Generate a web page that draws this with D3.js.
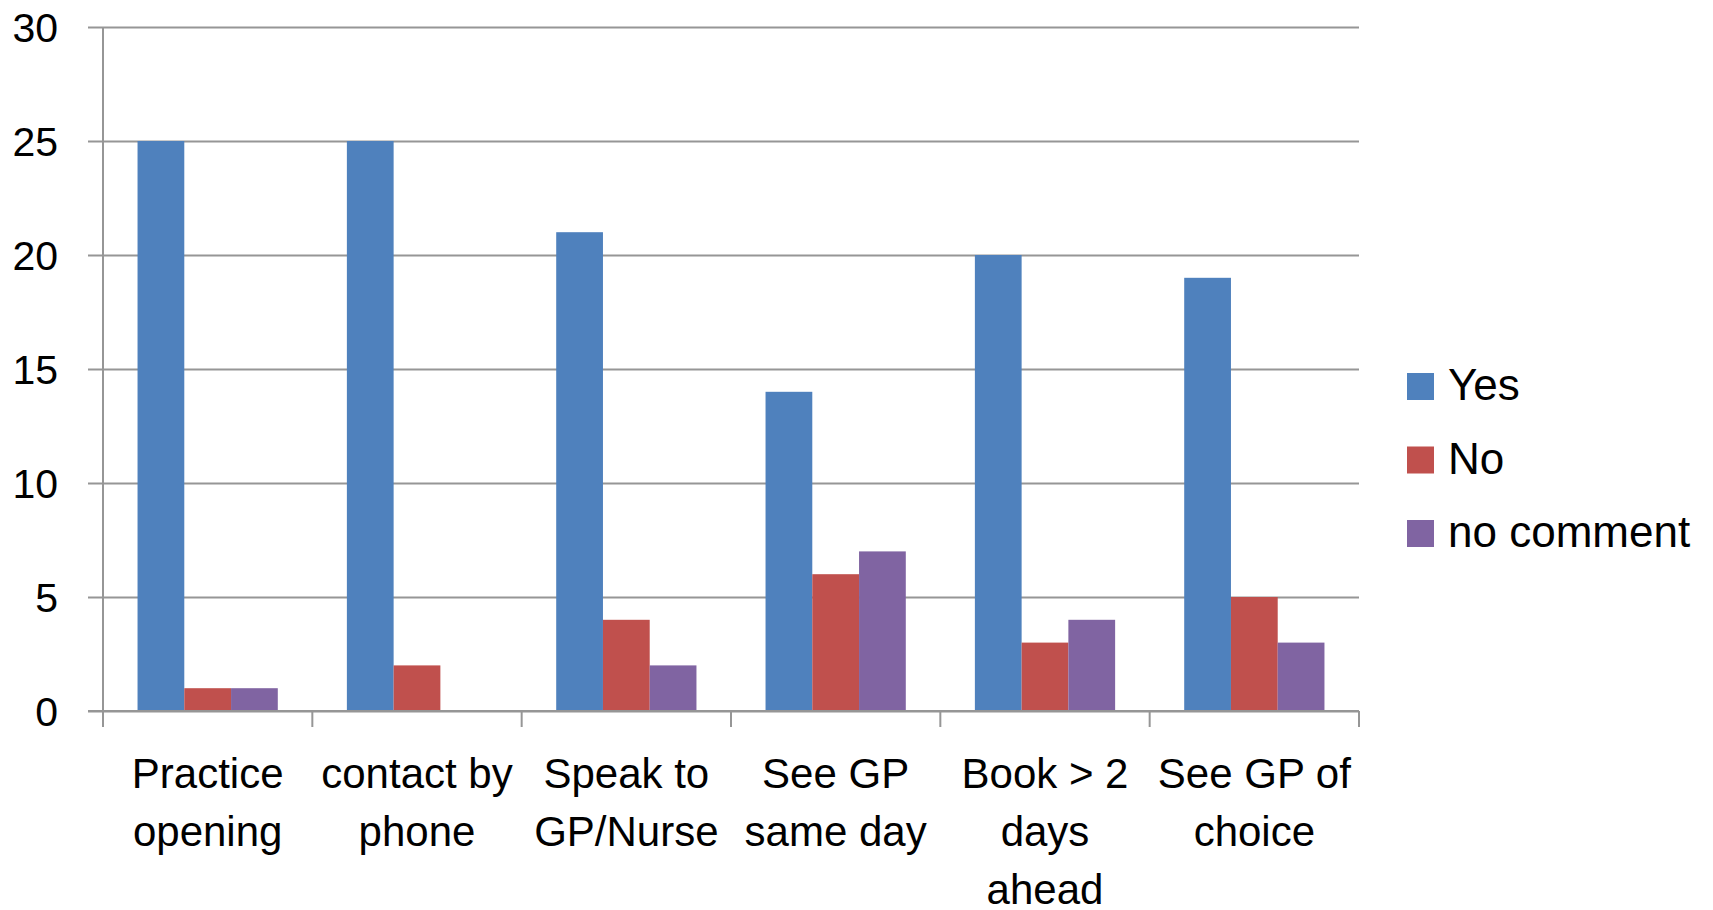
<!DOCTYPE html>
<html>
<head>
<meta charset="utf-8">
<script src="https://cdn.jsdelivr.net/npm/d3@7"></script>
<style>
  html, body { margin: 0; padding: 0; background: #fff; }
  svg text { font-family: "Liberation Sans", Arial, sans-serif; fill: #000; }
</style>
</head>
<body>
<div id="chart"></div>
<script>
const categories = ["Practice\nopening", "contact by\nphone", "Speak to\nGP/Nurse", "See GP\nsame day", "Book > 2\ndays\nahead", "See GP of\nchoice"]
const seriesNames = ["Yes", "No", "no comment"]
const yes = [25, 25, 21, 14, 20, 19]
const no = [1, 2, 4, 6, 3, 5]
const noComment = [1, 0, 2, 7, 4, 3]
const yTicks = [0, 5, 10, 15, 20, 25, 30]
const colors = ["#4F81BD", "#C0504D", "#8064A2"]

const width = 1713
const height = 910
const margin = { top: 27, right: 354, bottom: 199, left: 103 }

const svg = d3.select("#chart")
  .append("svg")
  .attr("width", width)
  .attr("height", height)

const values = [yes, no, noComment]
const rows = categories.map((c, i) => ({ cat: c, vals: seriesNames.map((s, j) => ({ key: s, value: values[j][i] })) }))

const x0 = d3.scaleBand()
  .domain(categories)
  .range([margin.left, width - margin.right])
  .paddingInner(0.33)
  .paddingOuter(0.165)

const x1 = d3.scaleBand()
  .domain(seriesNames)
  .range([0, x0.bandwidth()])

const y = d3.scaleLinear()
  .domain([0, 30])
  .range([height - margin.bottom, margin.top])

const color = d3.scaleOrdinal().domain(seriesNames).range(colors)

// Gridlines with small left ticks
svg.append("g")
  .attr("transform", `translate(${margin.left},0)`)
  .call(d3.axisLeft(y).tickValues(yTicks).tickSize(-(width - margin.right - margin.left)).tickFormat(""))
  .call(g => g.select(".domain").remove())
  .call(g => g.selectAll("line").attr("stroke", "#969696").attr("stroke-width", 2).attr("x1", -15))

// Bars
svg.append("g")
  .selectAll("g")
  .data(rows)
  .join("g")
  .attr("transform", d => `translate(${x0(d.cat)},0)`)
  .selectAll("rect")
  .data(d => d.vals)
  .join("rect")
  .attr("x", d => x1(d.key))
  .attr("width", x1.bandwidth())
  .attr("y", d => y(d.value))
  .attr("height", d => y(0) - y(d.value))
  .attr("fill", d => color(d.key))

// Y axis line
svg.append("line")
  .attr("x1", margin.left).attr("x2", margin.left)
  .attr("y1", margin.top).attr("y2", y(0) + 16)
  .attr("stroke", "#969696").attr("stroke-width", 2)

// Baseline
svg.append("line")
  .attr("x1", margin.left - 15).attr("x2", width - margin.right)
  .attr("y1", y(0)).attr("y2", y(0))
  .attr("stroke", "#969696").attr("stroke-width", 2)

// Category boundary ticks
const bounds = d3.range(categories.length + 1).map(i => margin.left + i * (width - margin.right - margin.left) / categories.length)
svg.append("g")
  .selectAll("line")
  .data(bounds)
  .join("line")
  .attr("x1", d => d).attr("x2", d => d)
  .attr("y1", y(0)).attr("y2", y(0) + 16)
  .attr("stroke", "#969696").attr("stroke-width", 2)

// Y tick labels
svg.append("g")
  .selectAll("text")
  .data(yTicks)
  .join("text")
  .attr("x", 58)
  .attr("y", d => y(d))
  .attr("dy", "0.36em")
  .attr("text-anchor", "end")
  .attr("font-size", 41)
  .text(d => d)

// Category labels
svg.append("g")
  .selectAll("text")
  .data(categories)
  .join("text")
  .attr("text-anchor", "middle")
  .attr("font-size", 42)
  .attr("x", d => x0(d) + x0.bandwidth() / 2)
  .attr("y", 788)
  .selectAll("tspan")
  .data(d => d.split("\n").map(t => ({ t, cx: x0(d) + x0.bandwidth() / 2 })))
  .join("tspan")
  .attr("x", d => d.cx)
  .attr("dy", (d, i) => i === 0 ? 0 : 58)
  .text(d => d.t)

// Legend
const legend = svg.append("g")
  .selectAll("g")
  .data(seriesNames)
  .join("g")
  .attr("transform", (d, i) => `translate(1407,${373 + i * 73.5})`)

legend.append("rect")
  .attr("width", 27)
  .attr("height", 27)
  .attr("fill", d => color(d))

legend.append("text")
  .attr("x", 41)
  .attr("y", 27)
  .attr("font-size", 44)
  .text(d => d)
</script>
</body>
</html>
